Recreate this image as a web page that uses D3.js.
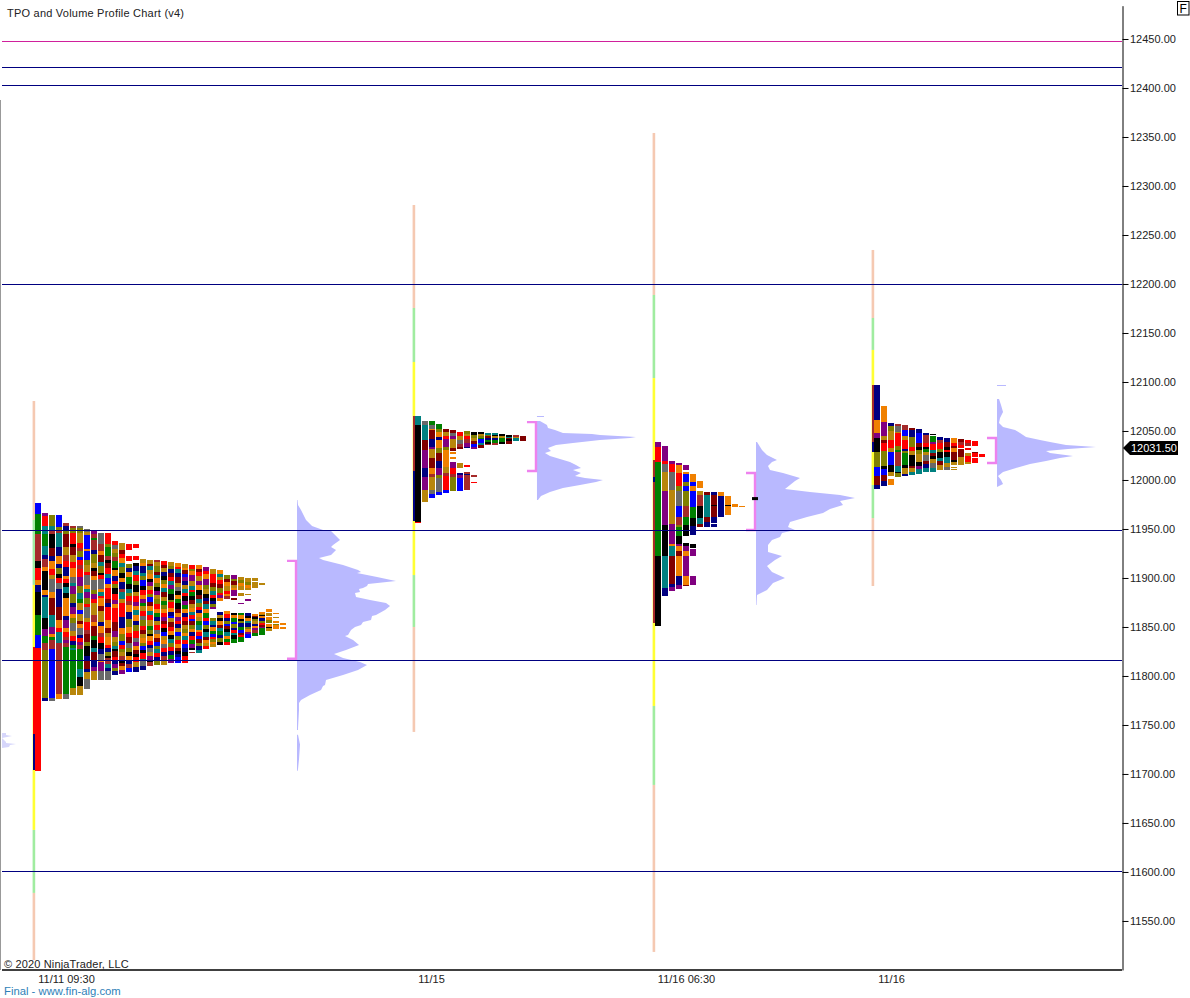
<!DOCTYPE html>
<html><head><meta charset="utf-8">
<script src="https://cdn.jsdelivr.net/npm/d3@7"></script>
<style>
html,body{margin:0;background:#fff}
svg{display:block}
text{font-family:"Liberation Sans",Arial,sans-serif}
</style></head><body>
<svg id="c" width="1190" height="998"></svg>
<script>
// ---- axis data
const yTicks=[12450,12400,12350,12300,12250,12200,12150,12100,12050,12000,11950,11900,11850,11800,11750,11700,11650,11600,11550];
const timeTicks=[9.43,61.57,98,127.29];
const timeLabels=["11/11 09:30","11/15","11/16 06:30","11/16"];
const navyLevels=[12421,12403,12199,11948.5,11816,11600];
const magentaLevels=[12447.5];
const lastPrice=12031.5;

// ---- session positions (bar units)
const sessionStart=[5,59.2857,93.5714,124.857];
const volumeStart=[42.43,76.71,108,142.43];

// ---- session range bands: [from,to,band]
const bands1=[[12080.6,11959.2,"s"],[11959.2,11892.9,"g"],[11892.9,11642.9,"y"],[11642.9,11578.6,"g"],[11578.6,11510.2,"s"]];
const bands2=[[12280.6,12175.5,"s"],[12175.5,12120.4,"g"],[12120.4,11903,"y"],[11903,11850,"g"],[11850,11742.9,"s"]];
const bands3=[[12354.1,12188.8,"s"],[12188.8,12104,"g"],[12104,11769.4,"y"],[11769.4,11688.8,"g"],[11688.8,11518.4,"s"]];
const bands4=[[12234.7,12165.3,"s"],[12165.3,12132.7,"g"],[12132.7,11994.9,"y"],[11994.9,11961.2,"g"],[11961.2,11891.8,"s"]];

// ---- opening spine: [from,to,period]
const spine1=[[11829.6,11741,"R"],[11741,11704,"N"]];
const spine2=[[12065.3,12009.2,"W"],[12009.2,11958.2,"N"]];
const spine3=[[12020.4,12003,"W"],[12003,11998,"N"],[11998,11854.1,"W"]];
const spine4=[[12097,12039,"W"],[12039,12028.5,"N"]];

// ---- TPO columns: [top price, bottom price, period runs]
const tpo1=[
[11976.5,11703,"B11G20W27K7R12A5N7K23G20B14R123"],
[11966,11774.5,"P3R10T9G12T10N4W8A5K19A6N2T22K11P8G7W8O50N3"],
[11964,11774.5,"O11T4W4K13M8N5A8R6D4Y13A6M17T12P7A3G3W9B48Y3"],
[11964,11776.5,"B11O3W2T13N8A8N3O6K3R5Y5N17M12A7R4T10W46A5"],
[11956,11776.5,"W3N4O3M13D8W5R6N9A3R4K3T6K5A17N4P8A4R4W3P3W4G45Y5"],
[11953,11780.5,"W2O4R10K3M7D7R5A8Y6T3P7O8N4P6A4O4Y8D4R5N3G3T2G35D6"],
[11953,11780.5,"Y2O4D8R5W2O5B3R4W3R7P8O6T5G3D6B3D6M3A3Y6N3R3P3W3G17T7K7D8"],
[11950,11786.8,"Y3D2B12A2B8O4D6R3Y9A3T3P5O5R3Y9D4R7W3M7O4K8N4M8N2D6Y9"],
[11949,11795.9,"P3W3G2W8N3O7D4K2M4A3Y8O3P4R3D9W6A3M8G3K6T3M7N5P3D7"],
[11946,11795.9,"Y9W5A3M6T3O5K2R3Y8A2T3R2A6M4D9N3A5W3R5K5N4Y4A2P7Y7"],
[11946,11795.9,"R9O3G7W3K3M4R5T3B5A3R9M4N3R11A6M4D4A6R3N3O3K2W5T3N3Y7"],
[11938,11801,"R4Y3D3O4W3G6K2A5N4R3O3K5R5P4A3R12M8P5D4O3T3K2M5R3N3P3O3N3"],
[11936,11802,"D6M3R3A4T3O5K4A3N5W3T5D3R11N9A5O5B3R3O3D3W3K2M3A3P3"],
[11935,11804,"R5_4R4_2O3N3A4G5K4T3O2R4W3A5N5O6A5R3M4Y4O3K3A3N3W3B3"],
[11935,11804,"R3_1_5R3_2K2N4T3R4O3K5D3R4P3A3T4A4N3O4R5Y3P3A3M3K2R4D3N4"],
[11919.5,11806.1,"D3A3N5T3O3B5K3R4A3P3G3D4R4Y3O5R3M3D3A4O3B3K2R5T2Y4N3"],
[11918.5,11810.2,"D3M2T3D3A4K3P3D3R3O3B4M3A4T3R4D5G3O3K2A4R3N3Y3D3P3K2W3"],
[11918.5,11811.2,"W2D3O4M3T2A4O3K3P3D3O4R4A3G3N3D3R4Y3A3M3B3O3T3R3N3O3"],
[11917.5,11811.2,"R3M2D3N3K3O3A3T3M4D3G3O3A3R3P3M2R3K3B3D3A3Y3R3N3W3D4"],
[11916.5,11813.3,"D3O2N3M3R3T3P3G4K4O2R4A3N3B2D3M3R3A3K3T3O3R3N3G3P3"],
[11915.5,11813.3,"A3R2T3N3M5D3Y3K3A3G3K5M3A3P3R3N3D3B3O3R3A3M3K2N2B5"],
[11914.5,11813.3,"D3A2M3B2P3N3D3T3R2K4P3G3A3N3R3M3D3O3A3T3R3B3N3K3R5"],
[11913.5,11823.5,"R3O2A3P4D4T3R2G3K3M3D3A3T2R3B2M3O3A2N3R3G3P3K2_1W1"],
[11913.5,11823.5,"A3M2R3D4P3A3K4M3T3O3R2N2A3D3G3T3A2R3B2M3O2N3T2"],
[11911.5,11827.6,"P3R2A3P4O3D3K3N2M2T3A3G3R2B3O3K2T3M2A2D2R2"],
[11909.2,11829.6,"D4R7M3O3T3R2K3N2O2P2_7O2T3N2A3G2B2R2O2A2D2"],
[11908.2,11831.6,"A3T2D2R3M3O3R2P2A2_8N2D2K2A3M2T2G3N2O3K2"],
[11903,11831.6,"O3M2A3D3R2A2W2_8A2R3N2O2B2M2K2T3A2G2R2"],
[11903,11833.7,"P3O2M3D2A2P5_1M2_10K2A2G3B2O3N2R2T2K3G3"],
[11901,11834.7,"D3O2A3D3_3D2_6P1_8G2A3K2O2N3G3B2M2R2G4"],
[11900,11838.8,"D3O3A2D2_3D1_3P2_10N2K2A2T2N3O2A2P2B3"],
[11900,11840.8,"D3_1D5_23A2M1K2O2D2N2A2P2W2G3"],
[11894.9,11841.8,"D2_24A2D1K1A2N2O2R2M2P1G6"],
[11868.4,11845.9,"A3_1D2_1A3O3_1A2K1D3"],
[11864.3,11848,"A2_3D1_5A2_1O2A5"],
[11854.1,11848,"A2_1A2"]
];
const tpo2=[
[12065.3,11956.1,"T9K96R1"],
[12060.2,11977.6,"Y4T15M10P18N9P13D12"],
[12060.2,11981.6,"G4Y4A1M9N8P2D9M9A6W3D13Y4B4"],
[12057.1,11984.7,"G5O2A5N3A7O5M7N7P6O3Y13B3"],
[12052,11986.7,"M3D4R3P7O3A17D6W3R13B3"],
[12051,11988.8,"M3Y3P3D8M3_1A2_3A2_2P6R6W3O13"],
[12049,11988.8,"R4D4Y4W3M2_14D4_5N2P3B13"],
[12050,11989.8,"O3D2R4W4P4N2_18R2_5W3N1W16"],
[12049,11997,"K3O3D3M3B3P2_26W2_5R1"],
[12049,12032.7,"K2D2O2G2B4T2M3"],
[12048,12035.7,"T2O2M2N2G3K2W1"],
[12048,12035.7,"T2K1D2N2G3W2"],
[12047,12036.8,"K2D2G4K2"],
[12045.9,12036.8,"K2T1M1K2M3"],
[12045.9,12039.8,"W2D1T3"],
[12044.9,12039.8,"M5"]
];
const tpo3=[
[12038.8,11851,"P5R15G94K70"],
[12034.7,11881.6,"P15R3Y8D18P34K31T31N8"],
[12019.4,11886.7,"P3R8Y18D34P19A2T10M28N3P4"],
[12017.4,11888.8,"P2A8R13O5Y15B11W8O2G9K8P2A5M5A20N9P4"],
[12015.3,11891.8,"P5_2A2B8O4B5O15W11G8K10_7K3P5A5P20A9M1"],
[12006.1,11892.9,"A8B4A5B15G11K8N9_9K4_1P7_19P9"],
[11999,11952,"A7_3D3W11K11T6M3"],
[11987.8,11952,"M3T22M5N5"],
[11987.8,11952,"N3M9K1M11N5_1N3"],
[11987.8,11962.3,"A4N22"],
[11983.7,11964.3,"A9K1A9"],
[11975.5,11972.5,"A3"],
[11973.5,11972.5,"A1"]
];
const tpo4=[
[12097,11990.8,"N35A14P5K14O15B9M9N4"],
[12075.5,11993.9,"A15P13D4M3R7O14K3B6M5N5"],
[12058.2,11994.9,"N3O4D8R8D3B12K6D4_3A5"],
[12057.1,12003.1,"W2Y5D1R11O3G2W12T5K1O3"],
[12056.1,12004.1,"W4B5D4R7N2O2G10K2D5N2"],
[12053,12005.1,"M2N6O9R4D4K10M2D3T3"],
[12052,12006.1,"N3B9M3K3O3D7K3P3T4"],
[12048,12008.2,"N2W7R4K2G3D2Y6M3N3T4"],
[12047,12008.2,"K1_1G6P2R5T3M3K3D4Y4T4"],
[12043.9,12010.2,"N3W3R5O3K6T3M3D5"],
[12042.9,12010.2,"N4M4K3R2K4T6D3Y3"],
[12042.9,12010.2,"A4R3M2A3M7K2D3_1D1_1D1"],
[12041.8,12015.3,"M3W2R3_1M7D7"],
[12040.8,12016.3,"R3W3_2R2_2D3R6D2"],
[12039.8,12017.4,"R6_6M1R5_1R5"],
[12026.5,12023.5,"R3"]
];

// ---- volume profiles: price levels and sizes (null = no volume)
const volPrice1=[11979.6,11974.5,11969.4,11959.2,11953,11949,11948,11943.9,11938.8,11933.7,11931.6,11928.6,11923.5,11920.4,11918.4,11913.3,11908.2,11906,11905,11903,11900.9,11897.9,11896.9,11893.9,11891.9,11889.8,11888.8,11885.7,11884.7,11880.6,11877.6,11874.5,11871.4,11867.3,11862.2,11861.2,11857.1,11855,11852,11850,11846.9,11841.8,11840.8,11836.7,11831.6,11826.5,11822.4,11818.3,11814.3,11811.2,11806.1,11801,11795.9,11790.8,11789.8,11785.7,11780.6,11775.5,11772.5,11765.3,11746.9,11744.9,11743,11740,11730,11715,11705,11703];
const volSize1=[0.5,1,4,9,15,26,34,38,43,36,34,39,34,22,26,46,61,64,60,70,80,94,99,71,70,66,62,63,58,59,73,89,93,88,79,75,74,66,64,58,54,51,48,56,62,49,37,46,63,70,61,46,29,28,26,24,13,4,2,2,1,1,null,1,3,2,1,0.5];
const volPrice2=[12065.3,12064.3,12063.3,12060.2,12056.1,12053,12051,12048,12047,12045.9,12043.9,12042.9,12040.8,12037.8,12035.7,12032.7,12029.6,12027.6,12024.5,12021.4,12018.4,12015.3,12012.3,12010.2,12007.2,12004.1,12002,12000,11998,11994.9,11991.8,11987.8,11983.7,11979.6];
const volSize2=[7,7,null,3,10,11,18,26,55,63,99,93,63,36,19,11,14,8,13,23,33,39,44,36,44,38,48,66,59,43,26,13,4,1];
const volPrice3=[12038.8,12030.6,12025.5,12020.4,12018.4,12014.3,12010.2,12007.2,12002,11999,11994.9,11990.8,11987.8,11984.7,11981.6,11978.6,11974.5,11970.4,11966.3,11962.3,11957.2,11952,11949,11945.9,11941.8,11938.8,11933.7,11926.5,11922.5,11918.4,11912.3,11906.1,11900,11894.9,11887.8,11882.7,11872.5];
const volSize3=[1,6,11,21,16,12,14,27,44,39,34,29,54,84,99,84,87,74,67,51,34,32,39,26,24,16,12,12,26,19,11,16,29,17,11,1,0.5];
const volPrice4=[12097,12096,12095,12082.7,12076.5,12069.4,12063.3,12058.2,12054.1,12051,12048,12043.9,12040.8,12038.8,12035.7,12033.7,12031.6,12029.6,12027.6,12024.5,12022.5,12019.4,12016.3,12012.3,12008.2,12004.1,12000,11995.9,11992.8];
const volSize4=[9,9,null,2,4,6,3,2,6,18,23,29,43,53,69,99,71,49,53,76,63,49,33,19,6,1,4,6,0];
const strayPrice=[11741.8,11739.8,11738.8,11736.7,11732.7,11731.6,11730.6,11729.6,11727.6,11726.5];
const straySize=[4,4,10,0,4,4,14,8,7,0];

// ---- value areas [high, low] and point of control
const valueArea=[[11917.5,11817.5],[12059,12009.2],[12007.2,11949],[12042.9,12017.4]];
const pocPrice3=11981;

// ---- periods
const periods=["R","B","N","K","G","O","T","M","W","P","A","D","Y"];
const periodColors=["#ff0000","#0000ff","#000080","#000000","#008000","#808000","#008080","#800000","#a52a2a","#800080","#f08000","#b8860b","#696969"];
const bandKeys=["s","g","y"];
const bandColors=["#f5c9b2","#a0eca0","#ffff33"];

// ---- scales
const svg=d3.select("#c");
const y=d3.scaleLinear().domain([12484,11500]).range([5.68,969.96]);
const x=d3.scaleLinear().domain([0,160]).range([0,1120]);
const color=d3.scaleOrdinal(periods,periodColors);
const bandColor=d3.scaleOrdinal(bandKeys,bandColors);
const volX=d3.scaleLinear().domain([0,100]).range([0,100]);

const parseRuns=s=>Array.from(s.matchAll(/([A-Z_])(\d+)/g),m=>({p:m[1],n:+m[2]}));

svg.append("rect").attr("x",0).attr("y",100).attr("width",1).attr("height",870).attr("fill","#999");

// session range lines
[bands1,bands2,bands3,bands4].forEach((bands,s)=>{
  svg.append("g").selectAll("rect").data(bands).join("rect")
    .attr("x",x(sessionStart[s])-2.4).attr("width",2.6)
    .attr("y",d=>y(d[0])).attr("height",d=>y(d[1])-y(d[0]))
    .attr("fill",d=>bandColor(d[2]));
});

// TPO cells
const cellsG=svg.append("g").attr("shape-rendering","crispEdges");
[tpo1,tpo2,tpo3,tpo4].forEach((cols,s)=>{
  const cells=[];
  cols.forEach((col,i)=>{
    const runs=parseRuns(col[2]);
    const pos=d3.scaleLinear().domain([0,d3.sum(runs,r=>r.n)]).range([y(col[0]),y(col[1])]);
    let acc=0;
    runs.forEach(r=>{
      if(r.p!=="_")cells.push({i,p:r.p,a:pos(acc),b:pos(acc+r.n)});
      acc+=r.n;
    });
  });
  cellsG.append("g").selectAll("rect").data(cells).join("rect")
    .attr("x",d=>Math.round(x(sessionStart[s]+d.i)))
    .attr("width",6)
    .attr("y",d=>Math.round(d.a))
    .attr("height",d=>Math.max(1,Math.round(d.b)-Math.round(d.a)))
    .attr("fill",d=>color(d.p));
});

// opening spines
[spine1,spine2,spine3,spine4].forEach((sp,s)=>{
  svg.append("g").attr("shape-rendering","crispEdges").selectAll("rect").data(sp).join("rect")
    .attr("x",Math.round(x(sessionStart[s]))-2).attr("width",2)
    .attr("y",d=>y(d[0])).attr("height",d=>y(d[1])-y(d[0]))
    .attr("fill",d=>color(d[2]));
});

// volume profiles
const volFill="#b9b9ff";
[[volPrice1,volSize1],[volPrice2,volSize2],[volPrice3,volSize3],[volPrice4,volSize4]].forEach((v,s)=>{
  const x0=x(volumeStart[s]);
  const pts=v[0].map((p,i)=>({p,w:v[1][i]}));
  const area=d3.area().defined(d=>d.w!==null).y(d=>y(d.p)).x0(x0).x1(d=>x0+volX(d.w)).curve(d3.curveLinear);
  svg.append("path").attr("d",area(pts)).attr("fill",volFill);
});
{
  const pts=strayPrice.map((p,i)=>({p,w:straySize[i]}));
  svg.append("path").attr("d",d3.area().y(d=>y(d.p)).x0(2).x1(d=>2+d.w)(pts)).attr("fill","#d6d6fb");
}

// value-area brackets
valueArea.forEach((va,s)=>{
  const xr=x(volumeStart[s])-1;
  const g=svg.append("g").attr("stroke","#ee82ee").attr("stroke-width",2.4).attr("fill","none");
  g.append("path").attr("d",d3.line()([[xr-9,y(va[0])],[xr,y(va[0])],[xr,y(va[1])],[xr-9,y(va[1])]]));
});

// point of control
svg.append("rect").attr("x",x(volumeStart[2])-4).attr("y",y(pocPrice3)-1.5).attr("width",6).attr("height",3).attr("fill","#000");

// level lines
const levelRow=d=>Math.floor(y(d))+0.5;
svg.append("g").selectAll("line").data(navyLevels).join("line")
  .attr("x1",2).attr("x2",1122)
  .attr("y1",levelRow).attr("y2",levelRow)
  .attr("stroke","#000080").attr("stroke-width",1);
svg.append("g").selectAll("line").data(magentaLevels).join("line")
  .attr("x1",2).attr("x2",1122)
  .attr("y1",levelRow).attr("y2",levelRow)
  .attr("stroke","#d0209c").attr("stroke-width",1);

// axes
const yAxis=d3.axisRight(y).tickValues(yTicks).tickFormat(d3.format(".2f")).tickSize(6).tickSizeOuter(0).tickPadding(1.5);
const gy=svg.append("g").attr("transform","translate(1122.5,0)").call(yAxis);
gy.select(".domain").attr("stroke","#000");
gy.selectAll("text").attr("font-size",11).attr("fill","#222").attr("font-family","Liberation Sans");

const xAxis=d3.axisBottom(x).tickValues(timeTicks).tickFormat((d,i)=>timeLabels[i]).tickSize(0).tickPadding(5);
const gx=svg.append("g").attr("transform","translate(0,970.5)").call(xAxis);
gx.select(".domain").remove();
gx.selectAll("text").attr("font-size",11).attr("fill","#222").attr("font-family","Liberation Sans");
svg.append("line").attr("x1",2).attr("x2",1122).attr("y1",970).attr("y2",970).attr("stroke","#000").attr("stroke-width",1.4);

// last price tag
{
  const t=y(lastPrice)-1;
  const g=svg.append("g");
  g.append("path").attr("d",d3.line()([[1123,t],[1130,t-7],[1178,t-7],[1178,t+7],[1130,t+7]])+"Z").attr("fill","#000");
  g.append("text").attr("x",1131).attr("y",t+4).attr("font-size",11).attr("fill","#fff").text(d3.format(".2f")(lastPrice));
}

// F box
svg.append("rect").attr("x",1177.5).attr("y",1.5).attr("width",11.5).attr("height",13.5).attr("fill","#fff").attr("stroke","#000");
svg.append("text").attr("x",1183.2).attr("y",13).attr("text-anchor","middle").attr("font-size",12).attr("fill","#000").text("F");

// texts
svg.append("text").attr("x",7).attr("y",17).attr("font-size",11).attr("fill","#222").attr("letter-spacing",0.22).text("TPO and Volume Profile Chart (v4)");
svg.append("text").attr("x",4).attr("y",968).attr("font-size",11).attr("fill","#222").attr("letter-spacing",0.15).text("© 2020 NinjaTrader, LLC");
svg.append("text").attr("x",4).attr("y",994.5).attr("font-size",11.3).attr("fill","#2f7fb8").text("Final - www.fin-alg.com");
</script>
</body></html>
